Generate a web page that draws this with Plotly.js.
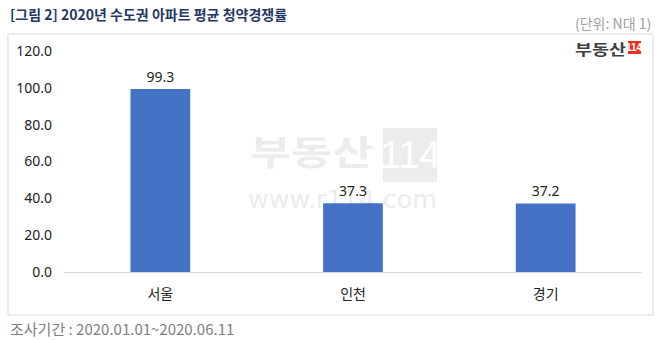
<!DOCTYPE html>
<html><head><meta charset="utf-8">
<script src="https://cdn.plot.ly/plotly-3.0.1.min.js"></script>
<style>html,body{margin:0;padding:0;background:#fff}#c{width:660px;height:340px}</style>
</head><body><div id="c"></div>
<script>
const categories = ['서울', '인천', '경기'];
const values = [99.3, 37.3, 37.2];
const labels = ['99.3', '37.3', '37.2'];
const yTicks = [0, 20, 40, 60, 80, 100, 120];
const yTickText = ['0.0', '20.0', '40.0', '60.0', '80.0', '100.0', '120.0'];
const titleText = '[그림 2] 2020년 수도권 아파트 평균 청약경쟁률';
const unitText = '(단위: N대 1)';
const footText = '조사기간 : 2020.01.01~2020.06.11';

const KR = '"Noto Sans CJK KR", "Noto Sans", sans-serif';
const NUM = '"Noto Sans", "Noto Sans CJK KR", sans-serif';
const L = 64, W = 578, B = 272, H = 221;
const px = x => (x - L) / W;
const py = y => (B - y) / H;

const trace = {
  type: 'bar', x: categories, y: values, text: labels,
  textposition: 'outside', cliponaxis: false,
  textfont: {family: NUM, size: 14, color: '#222'},
  marker: {color: '#4472c4', line: {width: 0}},
  hoverinfo: 'none'
};
const layout = {
  width: 660, height: 340,
  margin: {l: L, r: 660 - L - W, t: B - H, b: 340 - B},
  paper_bgcolor: '#fff', plot_bgcolor: 'rgba(0,0,0,0)',
  showlegend: false, bargap: 0.69,
  font: {family: KR, color: '#222'},
  xaxis: {type: 'category', showgrid: false, zeroline: false, showline: true,
    linecolor: '#d9d9d9', linewidth: 1, ticks: '', ticklabelstandoff: 9,
    tickfont: {family: KR, size: 14, color: '#222'}, fixedrange: true},
  yaxis: {range: [0, 120], tickvals: yTicks, ticktext: yTickText, showgrid: false,
    zeroline: false, showline: false, ticks: '', ticklabelstandoff: 11,
    tickfont: {family: NUM, size: 14, color: '#222'}, fixedrange: true},
  shapes: [
    {type: 'rect', xref: 'paper', yref: 'paper', layer: 'below',
     x0: px(8), x1: px(653), y0: py(315), y1: py(34),
     line: {color: '#d9d9d9', width: 1}, fillcolor: 'rgba(0,0,0,0)'},
    {type: 'rect', xref: 'paper', yref: 'paper', layer: 'below',
     x0: px(383), x1: px(437), y0: py(182), y1: py(128),
     line: {width: 0}, fillcolor: '#ececec'},
    {type: 'rect', xref: 'paper', yref: 'paper', layer: 'above',
     x0: px(628), x1: px(641), y0: py(54), y1: py(41),
     line: {width: 0}, fillcolor: '#e8311c'}
  ],
  annotations: [
    {xref: 'paper', yref: 'paper', x: px(8), y: py(14), xanchor: 'left', yanchor: 'middle',
     text: '<b>' + titleText + '</b>', showarrow: false,
     font: {family: KR, size: 14, color: '#1f3864'}},
    {xref: 'paper', yref: 'paper', x: px(653), y: py(23), xanchor: 'right', yanchor: 'middle',
     text: unitText, showarrow: false, font: {family: KR, size: 14, color: '#a0a0a0'}},
    {xref: 'paper', yref: 'paper', x: px(8), y: py(328), xanchor: 'left', yanchor: 'middle',
     text: footText, showarrow: false, font: {family: KR, size: 15, color: '#808080'}},
    {xref: 'paper', yref: 'paper', x: px(626), y: py(48), xanchor: 'right', yanchor: 'middle',
     text: '부동산', showarrow: false, font: {family: KR, size: 15, weight: 'bold', color: '#404040'}, name: 'logo'},
    {xref: 'paper', yref: 'paper', x: px(634.5), y: py(47.5), xanchor: 'center', yanchor: 'middle',
     text: '<b>114</b>', showarrow: false, font: {family: '"Liberation Sans Narrow", sans-serif', size: 10, color: '#fff'}},
    {xref: 'paper', yref: 'paper', x: px(311.5), y: py(150), xanchor: 'center', yanchor: 'middle',
     text: '부동산', showarrow: false, font: {family: KR, size: 34, weight: 'bold', color: '#ececec'}, name: 'wm1'},
    {xref: 'paper', yref: 'paper', x: px(410), y: py(155), xanchor: 'center', yanchor: 'middle',
     text: '114', showarrow: false, font: {family: '"Liberation Sans Narrow", sans-serif', size: 38, color: '#fff'}, name: 'wm2'},
    {xref: 'paper', yref: 'paper', x: px(342.5), y: py(200), xanchor: 'center', yanchor: 'middle',
     text: 'www.r114.com', showarrow: false, font: {family: '"DejaVu Sans", sans-serif', size: 24, color: '#ececec'}, name: 'wm3'}
  ]
};
// stretched logo-like texts: [target left x, target width]
const stretch = {logo: [575, 51], wm1: [250, 123], wm3: [248, 189]};
Plotly.newPlot('c', [trace], layout, {displayModeBar: false, staticPlot: true}).then(gd => {
  const below = gd.querySelector('.layer-below');
  const root = gd.getBoundingClientRect();
  layout.annotations.forEach((a, i) => {
    const g = gd.querySelector('.infolayer .annotation[data-index="' + i + '"]');
    if (!g) return;
    const t = g.querySelector('text');
    if (a.name && stretch[a.name] && t) {
      t.setAttribute('text-anchor', 'start');
      t.setAttribute('textLength', stretch[a.name][1]);
      t.setAttribute('lengthAdjust', 'spacingAndGlyphs');
      const r = t.getBoundingClientRect();
      const dx = stretch[a.name][0] - (r.left - root.left);
      t.setAttribute('transform', 'translate(' + dx + ',0)');
    }
    if (a.name && a.name.startsWith('wm') && below) below.appendChild(g);
  });
});
</script></body></html>
